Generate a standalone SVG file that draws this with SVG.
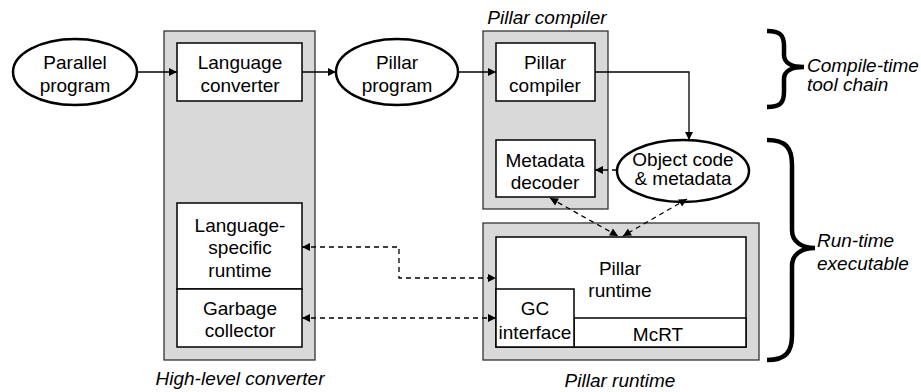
<svg xmlns="http://www.w3.org/2000/svg" width="921" height="392" viewBox="0 0 921 392">
<defs>
<marker id="ah" viewBox="0 0 10 10" refX="10" refY="5" markerWidth="10" markerHeight="8" markerUnits="userSpaceOnUse" orient="auto-start-reverse"><path d="M0,0 L10,5 L0,10 z" fill="#000"/></marker>
</defs>
<style>
.grp{fill:#d9d9d9;stroke:#333;stroke-width:1.3}
.box{fill:#fff;stroke:#000;stroke-width:1.5}
.ell{fill:#fff;stroke:#000;stroke-width:2.5}
text{font-family:"Liberation Sans",Arial,sans-serif;font-size:19px;fill:#000;text-anchor:middle}
.it{font-style:italic}
.lt{text-anchor:start}
.ln{fill:none;stroke:#000;stroke-width:1.3}
.ds{fill:none;stroke:#000;stroke-width:1.3;stroke-dasharray:5,4}
.br{fill:none;stroke:#000;stroke-width:4.5}
</style>
<g id="high-level-converter">
<rect class="grp" x="164" y="31" width="151" height="329"/>
<text class="it" x="240" y="385">High-level converter</text>
</g>
<g id="pillar-compiler-group">
<rect class="grp" x="483" y="31" width="125" height="178"/>
<text class="it" x="547" y="24">Pillar compiler</text>
</g>
<g id="pillar-runtime-group">
<rect class="grp" x="483" y="223" width="276" height="137"/>
<text class="it" x="620" y="387">Pillar runtime</text>
</g>
<g id="parallel-program">
<ellipse class="ell" cx="75" cy="72" rx="62" ry="33"/>
<text x="75" y="69">Parallel</text><text x="75" y="92">program</text>
</g>
<g id="language-converter">
<rect class="box" x="177" y="43" width="125" height="58"/>
<text x="240" y="69">Language</text><text x="240" y="92">converter</text>
</g>
<g id="pillar-program">
<ellipse class="ell" cx="397" cy="72" rx="61" ry="33"/>
<text x="397" y="69">Pillar</text><text x="397" y="92">program</text>
</g>
<g id="pillar-compiler">
<rect class="box" x="496" y="43" width="99" height="58"/>
<text x="545" y="69">Pillar</text><text x="545" y="92">compiler</text>
</g>
<g id="metadata-decoder">
<rect class="box" x="496" y="140" width="99" height="57"/>
<text x="545" y="167">Metadata</text><text x="545" y="189">decoder</text>
</g>
<g id="object-code">
<ellipse class="ell" cx="683" cy="171" rx="66" ry="31"/>
<text x="683" y="166">Object code</text><text x="683" y="185">&amp; metadata</text>
</g>
<g id="language-specific-runtime">
<rect class="box" x="177" y="203" width="125" height="86"/>
<text x="240" y="232">Language-</text><text x="240" y="254">specific</text><text x="240" y="277">runtime</text>
</g>
<g id="garbage-collector">
<rect class="box" x="177" y="289" width="125" height="58"/>
<text x="240" y="315">Garbage</text><text x="240" y="337">collector</text>
</g>
<g id="pillar-runtime">
<rect class="box" x="496" y="237" width="250" height="110"/>
<text x="620" y="275">Pillar</text><text x="620" y="297">runtime</text>
</g>
<g id="mcrt">
<rect class="box" x="574" y="318" width="172" height="29"/>
<text x="658" y="341">McRT</text>
</g>
<g id="gc-interface">
<rect class="box" x="496" y="289" width="78" height="58"/>
<text x="535" y="315">GC</text><text x="535" y="339">interface</text>
</g>
<g id="braces">
<path class="br" d="M767,31 C780,31 784,35 784,46 L784,55 C784,63 792,67 804,67 C792,67 784,71 784,79 L784,92 C784,103 780,107 767,107"/>
<path class="br" d="M767,140 C786,140 792,148 792,165 L792,230 C792,242 802,248 815,248 C802,248 792,254 792,266 L792,335 C792,352 786,360 767,360"/>
<text class="it lt" x="807" y="72">Compile-time</text>
<text class="it lt" x="807" y="91">tool chain</text>
<text class="it lt" x="817" y="247">Run-time</text>
<text class="it lt" x="817" y="270">executable</text>
</g>
<g id="connectors">
<line class="ln" x1="137" y1="72" x2="177" y2="72" marker-end="url(#ah)"/>
<line class="ln" x1="302" y1="72" x2="336" y2="72" marker-end="url(#ah)"/>
<line class="ln" x1="458" y1="72" x2="496" y2="72" marker-end="url(#ah)"/>
<polyline class="ln" points="595,72 689,72 689,140" marker-end="url(#ah)"/>
<line class="ds" x1="617" y1="170" x2="595" y2="170" marker-end="url(#ah)"/>
<line class="ds" x1="550" y1="198" x2="618" y2="236" marker-start="url(#ah)" marker-end="url(#ah)"/>
<line class="ds" x1="687" y1="199" x2="623" y2="236" marker-start="url(#ah)" marker-end="url(#ah)"/>
<polyline class="ds" points="302,247 399,247 399,278 496,278" marker-start="url(#ah)" marker-end="url(#ah)"/>
<line class="ds" x1="302" y1="318" x2="496" y2="318" marker-start="url(#ah)" marker-end="url(#ah)"/>
</g>
</svg>
